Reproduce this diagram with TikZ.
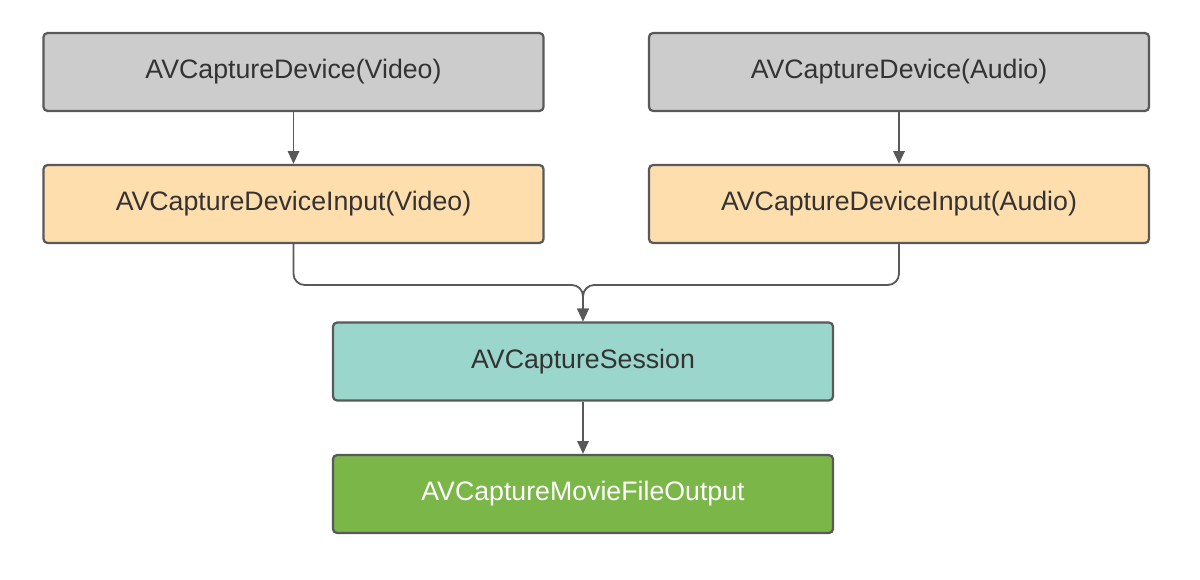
\documentclass[tikz,border=0pt]{standalone}
\usepackage{fontspec}
\setmainfont{Liberation Sans}
\usetikzlibrary{arrows.meta}
\definecolor{devgray}{RGB}{204,204,204}
\definecolor{inorange}{RGB}{255,222,173}
\definecolor{sessteal}{RGB}{154,214,203}
\definecolor{outgreen}{RGB}{122,182,72}
\definecolor{edgegray}{RGB}{89,89,89}
\definecolor{txtgray}{RGB}{51,51,51}
\begin{document}
\begin{tikzpicture}[x=0.025cm,y=-0.025cm,
  box/.style={draw=edgegray,line width=1.6pt,rounded corners=3pt,minimum width=12.5cm,minimum height=1.95cm,text=txtgray,font=\fontsize{19}{22}\selectfont},
  link/.style={draw=edgegray,line width=1.3pt,-{Triangle[length=9pt,width=8pt]}}]
  % Background
  \fill[white] (0,0) rectangle (1200,579);
  \useasboundingbox (0,0) rectangle (1200,579);

  % Devices and inputs
  \node[box,fill=devgray] (vdev) at (293.5,72) {AVCaptureDevice(Video)};
  \node[box,fill=devgray] (adev) at (899,72) {AVCaptureDevice(Audio)};
  \node[box,fill=inorange] (vin) at (293.5,204) {AVCaptureDeviceInput(Video)};
  \node[box,fill=inorange] (ain) at (899,204) {AVCaptureDeviceInput(Audio)};

  % Session and output
  \node[box,fill=sessteal] (sess) at (583,361.5) {AVCaptureSession};
  \node[box,fill=outgreen,text=white] (out) at (583,494) {AVCaptureMovieFileOutput};

  % Connectors
  \draw[link] (vdev) -- (vin);
  \draw[link] (adev) -- (ain);
  \draw[link,rounded corners=8pt] (vin.south) |- (583,285) -- (sess.north);
  \draw[link,rounded corners=8pt] (ain.south) |- (583,285) -- (sess.north);
  \draw[link] (sess) -- (out);
\end{tikzpicture}
\end{document}
